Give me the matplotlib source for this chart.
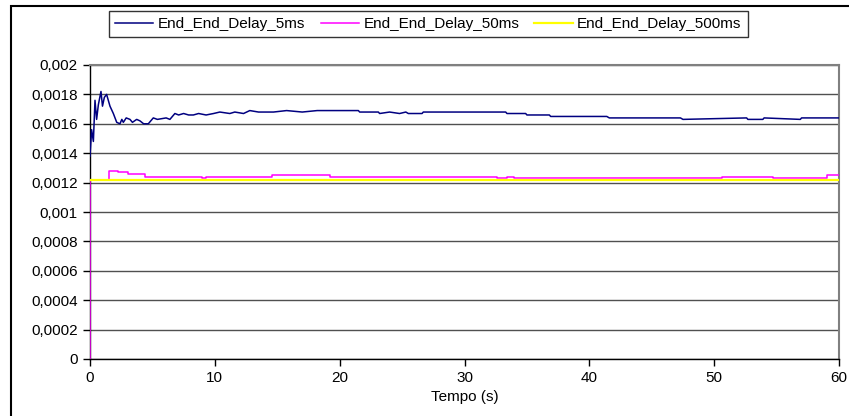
import matplotlib
matplotlib.use("Agg")
import matplotlib.pyplot as plt
from matplotlib.patches import Rectangle
from matplotlib.ticker import FixedLocator, FuncFormatter

# ---- data ----
blue_time = [0, 0.13, 0.27, 0.4, 0.53, 0.67, 0.88, 1.0, 1.15, 1.33, 1.6, 1.87, 2.14,
             2.4, 2.55, 2.67, 2.9, 3.2, 3.4, 3.74, 4.0, 4.3, 4.67, 5.07, 5.4, 6.1, 6.4,
             6.8, 7.1, 7.5, 7.9, 8.28, 8.7, 9.3, 9.9, 10.4, 11.2, 11.6, 12.3, 12.8, 13.5,
             14.1, 14.7, 15.75, 17.0, 18.2, 20.0, 21.5, 21.6, 23.1, 23.2, 24.0, 24.8,
             25.3, 25.5, 26.6, 26.7, 28.0, 29.1, 33.3, 33.4, 34.9, 35.0, 36.8, 36.9,
             41.4, 41.6, 43.0, 47.3, 47.5, 52.6, 52.7, 53.9, 54.0, 56.9, 57.0, 60.0]
blue_delay = [0.00138, 0.00156, 0.00148, 0.00176, 0.00163, 0.00173, 0.00182, 0.00172,
              0.00178, 0.00180, 0.00172, 0.00167, 0.00161, 0.00160, 0.00163, 0.00161,
              0.00164, 0.00163, 0.00161, 0.00163, 0.00162, 0.00160, 0.00160, 0.00164,
              0.00163, 0.00164, 0.00163, 0.00167, 0.00166, 0.00167, 0.00166, 0.00166,
              0.00167, 0.00166, 0.00167, 0.00168, 0.00167, 0.00168, 0.00167, 0.00169,
              0.00168, 0.00168, 0.00168, 0.00169, 0.00168, 0.00169, 0.00169, 0.00169,
              0.00168, 0.00168, 0.00167, 0.00168, 0.00167, 0.00168, 0.00167, 0.00167,
              0.00168, 0.00168, 0.00168, 0.00168, 0.00167, 0.00167, 0.00166, 0.00166,
              0.00165, 0.00165, 0.00164, 0.00164, 0.00164, 0.00163, 0.00164, 0.00163,
              0.00163, 0.00164, 0.00163, 0.00164, 0.00164]

magenta_time = [0, 0, 1.5, 2.27, 3.07, 4.4, 9.0, 9.3, 14.6, 19.2, 32.6, 33.4, 34.0,
                50.6, 54.7, 59.0, 60.0]
magenta_delay = [0, 0.00122, 0.00128, 0.00127, 0.00126, 0.00124, 0.00123, 0.00124,
                 0.00125, 0.00124, 0.00123, 0.00124, 0.00123, 0.00124, 0.00123,
                 0.00125, 0.00125]

yellow_time = [0, 60]
yellow_delay = [0.001215, 0.001215]

series_labels = ["End_End_Delay_5ms", "End_End_Delay_50ms", "End_End_Delay_500ms"]
series_colors = ["#000080", "#FF00FF", "#FFFF00"]
y_ticks = [0, 0.0002, 0.0004, 0.0006, 0.0008, 0.001, 0.0012, 0.0014, 0.0016, 0.0018, 0.002]
x_ticks = [0, 10, 20, 30, 40, 50, 60]
x_label = "Tempo (s)"

plt.rcParams["font.family"] = ["Liberation Sans", "DejaVu Sans"]
FS = 11

fig = plt.figure(figsize=(8.49, 4.16), dpi=100)
ax = fig.add_axes([90/849, 1-359/416, (839-90)/849, (359-65)/416])

ax.plot(blue_time, blue_delay, color=series_colors[0], lw=1.1, label=series_labels[0], zorder=3)
ax.plot(magenta_time, magenta_delay, color=series_colors[1], lw=1.1, drawstyle="steps-post",
        label=series_labels[1], zorder=3)
ax.plot(yellow_time, yellow_delay, color=series_colors[2], lw=1.6, label=series_labels[2], zorder=4)

ax.set_xlim(0, 60)
ax.set_ylim(0, 0.002)
ax.yaxis.set_major_locator(FixedLocator(y_ticks))
ax.xaxis.set_major_locator(FixedLocator(x_ticks))
ax.yaxis.set_major_formatter(FuncFormatter(lambda v, p: ("%g" % round(v, 6)).replace(".", ",")))
ax.grid(axis="y", color="#505050", lw=1.0)
ax.set_axisbelow(True)
for s in ["top", "right"]:
    ax.spines[s].set_color("#808080")
    ax.spines[s].set_linewidth(1.5)
for s in ["left", "bottom"]:
    ax.spines[s].set_color("black")
    ax.spines[s].set_linewidth(1.0)
ax.tick_params(direction="out", length=5, width=1, labelsize=FS, pad=4)
ax.set_xlabel(x_label, fontsize=FS, labelpad=3)

leg = fig.legend(loc="upper left", bbox_to_anchor=(109/849, 1-11/416), ncol=3,
                 fontsize=FS, frameon=True, fancybox=False, edgecolor="black",
                 handlelength=2.5, handletextpad=0.3, columnspacing=1.0,
                 borderpad=0.4, borderaxespad=0)
leg.get_frame().set_linewidth(1.0)

fig.add_artist(Rectangle((11/849, -0.2), 2, 1.2 - 6/416, transform=fig.transFigure,
                         fill=False, edgecolor="black", lw=1.5, clip_on=False))

fig.savefig("out.png", dpi=100)
